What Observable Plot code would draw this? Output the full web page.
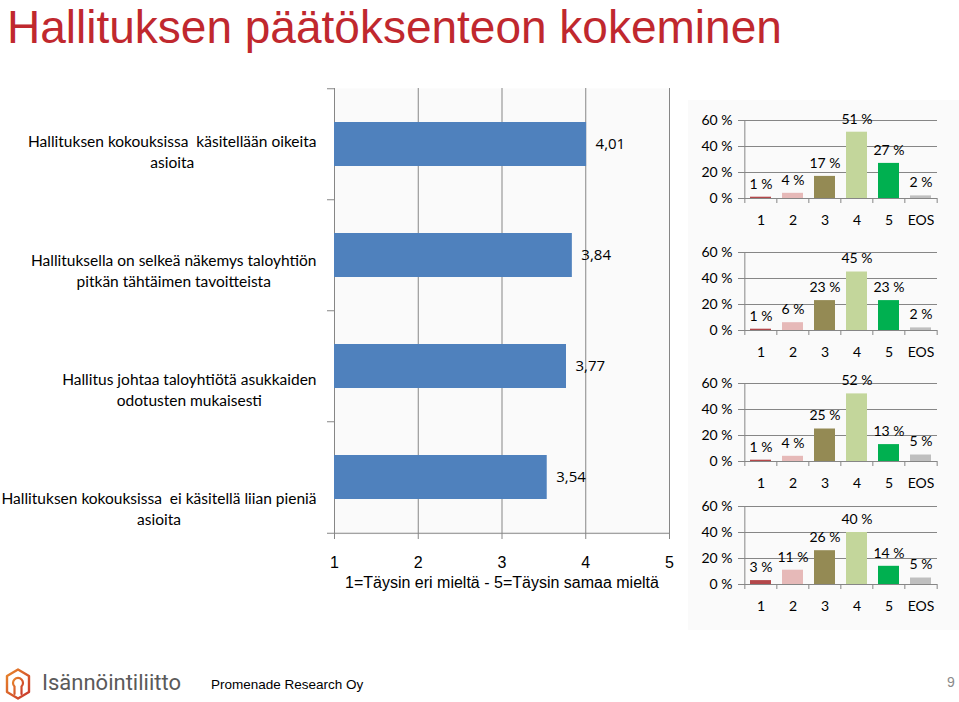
<!DOCTYPE html>
<html>
<head>
<meta charset="utf-8">
<script src="https://cdn.jsdelivr.net/npm/d3@7"></script>
<script src="https://cdn.jsdelivr.net/npm/@observablehq/plot@0.6"></script>
<style>
  body { margin: 0; background: #fff; }
  #page { position: relative; width: 959px; height: 702px; overflow: hidden; background: #fff; }
  .abs { position: absolute; }
  #title { left: 7px; top: 0px; font-family: "Liberation Sans", Arial, sans-serif;
           font-size: 46px; line-height: normal; color: #c0282e; white-space: nowrap; }
  #panel { left: 688px; top: 100px; width: 271px; height: 530px; background: #fafafa; }
  #logo { left: 5px; top: 668px; }
  #org { left: 42px; top: 670px; font-family: Roboto, "DejaVu Sans", sans-serif; font-size: 22px; color: #5a5a5a; white-space: nowrap; }
  #company { left: 211px; top: 677px; font-family: "Liberation Sans", Arial, sans-serif; font-size: 13.5px; color: #000; white-space: nowrap; }
  #pageno { left: 947px; top: 674px; font-family: "Liberation Sans", Arial, sans-serif; font-size: 14px; color: #8a8a8a; }
</style>
</head>
<body>
<div id="page">
  <div id="panel" class="abs"></div>
  <div id="title" class="abs">Hallituksen päätöksenteon kokeminen</div>
  <div id="labels" class="abs" style="left:0;top:0"></div>
  <div id="main" class="abs" style="left:320px;top:0"></div>
  <div id="d1" class="abs" style="left:690px;top:100px"></div>
  <div id="d2" class="abs" style="left:690px;top:232px"></div>
  <div id="d3" class="abs" style="left:690px;top:363px"></div>
  <div id="d4" class="abs" style="left:690px;top:486px"></div>
  <svg id="logo" class="abs" width="26" height="32" viewBox="0 0 26 32">
    <defs><linearGradient id="lg" x1="0" y1="0" x2="1" y2="1"><stop offset="0" stop-color="#e8862a"/><stop offset="1" stop-color="#c8372d"/></linearGradient></defs>
    <path d="M13 1.5 L24 8 L24 24 L13 30.5 L2 24 L2 8 Z" fill="none" stroke="url(#lg)" stroke-width="2.4" stroke-linejoin="round"/>
    <path d="M9.5 26 L9.5 18.5 A5 5 0 1 1 16.5 18.5 L16.5 26" fill="none" stroke="url(#lg)" stroke-width="2.2" stroke-linecap="round"/>
  </svg>
  <div id="org" class="abs">Isännöintiliitto</div>
  <div id="company" class="abs">Promenade Research Oy</div>
  <div id="pageno" class="abs">9</div>
</div>
<script>
// ---------- DATA ----------
const statements = [
  "Hallituksen kokouksissa  käsitellään oikeita\nasioita",
  "Hallituksella on selkeä näkemys taloyhtiön\npitkän tähtäimen tavoitteista",
  "Hallitus johtaa taloyhtiötä asukkaiden\nodotusten mukaisesti",
  "Hallituksen kokouksissa  ei käsitellä liian pieniä\nasioita"
];
const means = [4.01, 3.84, 3.77, 3.54];
const scaleTicks = [1, 2, 3, 4, 5];
const scaleTitle = "1=Täysin eri mieltä - 5=Täysin samaa mieltä";

const answerCategories = ["1", "2", "3", "4", "5", "EOS"];
const dist1 = [1, 4, 17, 51, 27, 2];
const dist2 = [1, 6, 23, 45, 23, 2];
const dist3 = [1, 4, 25, 52, 13, 5];
const dist4 = [3, 11, 26, 40, 14, 5];
const pctTicks = [0, 20, 40, 60];

// ---------- STYLE ----------
const categoryColors = ["#b3474a", "#e6b9b8", "#948a54", "#c3d69b", "#00b050", "#bfbfbf"];
const gridGray = "#868686";
const labelFont = "Lato, 'Open Sans', sans-serif";
const labelSize = 15.5;

// measure helper for centring multi-line labels inside a right-aligned block
const ctx = document.createElement("canvas").getContext("2d");
function blockWidth(s, size, family) {
  ctx.font = `${size}px ${family}`;
  return Math.max(...s.split("\n").map(l => ctx.measureText(l).width));
}

// ---------- LEFT LABELS ----------
const labelsPlot = Plot.plot({
  width: 330, height: 600,
  marginLeft: 0, marginRight: 14, marginTop: 90, marginBottom: 32,
  style: {background: "transparent", fontFamily: labelFont, fontSize: labelSize + "px", color: "#000"},
  x: {axis: null},
  y: {type: "band", domain: statements, padding: 0, axis: null},
  marks: statements.map(s => Plot.text([s], {
    y: d => d, text: d => d,
    frameAnchor: "right", textAnchor: "middle",
    dx: -blockWidth(s, labelSize, "Lato") / 2,
    lineHeight: 1.34, fontSize: labelSize, fill: "#000"
  }))
});
document.getElementById("labels").appendChild(labelsPlot);

// ---------- MAIN BAR CHART ----------
const mainTop = 88, mainBottom = 66, mainH = 600;
const step = (mainH - mainTop - mainBottom) / statements.length;
const meanData = statements.map((s, i) => ({statement: s, mean: means[i]}));
const mainPlot = Plot.plot({
  width: 370, height: mainH,
  marginLeft: 14, marginRight: 21, marginTop: mainTop, marginBottom: mainBottom,
  style: {background: "transparent", fontFamily: "'Liberation Sans', Arial, sans-serif", fontSize: "16px", color: "#000"},
  x: {domain: [1, 5]},
  y: {type: "band", domain: statements, paddingInner: 0.6, paddingOuter: 0.3, axis: null},
  marks: [
    Plot.frame({fill: "#fafafa", stroke: null}),
    Plot.gridX(scaleTicks.slice(1), {stroke: gridGray, strokeOpacity: 1}),
    Plot.ruleX([1], {stroke: gridGray}),
    Plot.ruleY([statements[statements.length - 1]], {dy: step / 2, stroke: gridGray}),
    Plot.axisY({tickSize: 7, tickFormat: () => "", label: null, dy: -step / 2, stroke: gridGray}),
    Plot.axisY({ticks: [statements[statements.length - 1]], tickSize: 7, tickFormat: () => "", label: null, dy: step / 2, stroke: gridGray}),
    Plot.barX(meanData, {x1: 1, x2: "mean", y: "statement", fill: "#4f81bd"}),
    Plot.text(meanData, {x: "mean", y: "statement", text: d => d.mean.toFixed(2).replace(".", ","),
      textAnchor: "start", dx: 9, fontFamily: "'Open Sans', sans-serif", fontSize: 15, fill: "#000"}),
    Plot.axisX({ticks: scaleTicks, tickFormat: d => String(d), tickSize: 5, tickPadding: 17, label: null, stroke: gridGray, fill: "#000"}),
    Plot.text([scaleTitle], {frameAnchor: "bottom", lineAnchor: "top", dy: 42, fontSize: 16, fill: "#000"})
  ]
});
document.getElementById("main").appendChild(mainPlot);

// ---------- DISTRIBUTION CHARTS ----------
const smallFont = "Lato, 'Open Sans', sans-serif";
function distChart(values) {
  const data = answerCategories.map((c, i) => ({cat: c, v: values[i]}));
  const w = 269, ml = 53, mr = 22;
  const xStep = (w - ml - mr) / answerCategories.length;
  return Plot.plot({
    width: w, height: 134,
    marginLeft: ml, marginRight: mr, marginTop: 20, marginBottom: 36,
    style: {background: "transparent", fontFamily: smallFont, fontSize: "14px", color: "#000", overflow: "visible"},
    x: {type: "band", domain: answerCategories, paddingInner: 0.35, paddingOuter: 0.175},
    y: {domain: [0, 60]},
    color: {domain: answerCategories, range: categoryColors},
    marks: [
      Plot.gridY(pctTicks.slice(1), {stroke: gridGray, strokeOpacity: 1}),
      Plot.ruleY([0], {stroke: gridGray}),
      Plot.ruleX([answerCategories[0]], {dx: -xStep / 2, y1: 0, y2: 60, stroke: gridGray}),
      Plot.axisY({ticks: pctTicks, tickFormat: d => d + " %", tickSize: 5, tickPadding: 6, label: null, stroke: gridGray, fill: "#000"}),
      Plot.axisX({tickSize: 5, tickFormat: () => "", dx: -xStep / 2, label: null, stroke: gridGray}),
      Plot.axisX({ticks: [answerCategories[answerCategories.length - 1]], tickSize: 5, tickFormat: () => "", dx: xStep / 2, label: null, stroke: gridGray}),
      Plot.barY(data, {x: "cat", y: "v", fill: "cat"}),
      Plot.text(data, {x: "cat", y: "v", text: d => d.v + " %", dy: -13, fill: "#000", fontSize: 14}),
      Plot.axisX({tickSize: 0, tickPadding: 17, label: null, fill: "#000", fontSize: 14})
    ]
  });
}
[dist1, dist2, dist3, dist4].forEach((d, i) => {
  document.getElementById("d" + (i + 1)).appendChild(distChart(d));
});
</script>
</body>
</html>
